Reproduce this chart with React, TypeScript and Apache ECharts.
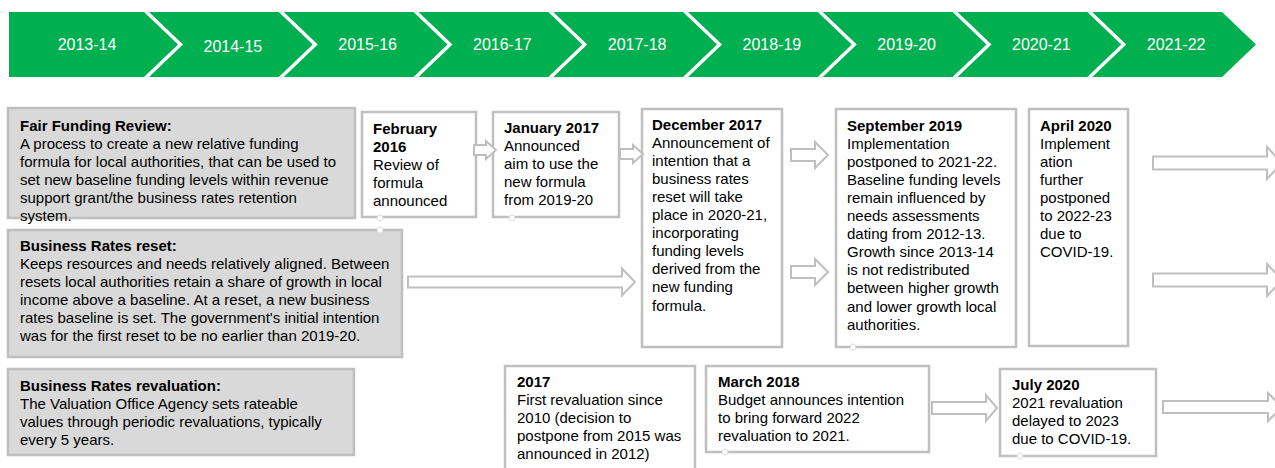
import React, { useEffect, useRef } from "react";
import * as echarts from "echarts";

// ---------- DATA ----------
const periods = ["2013-14", "2014-15", "2015-16", "2016-17", "2017-18", "2018-19", "2019-20", "2020-21", "2021-22"];

const fairFundingTitle = ["Fair Funding Review:"];
const fairFundingBody = [
  "A process to create a new relative funding",
  "formula for local authorities, that can be used to",
  "set new baseline funding levels within revenue",
  "support grant/the business rates retention",
  "system.",
];

const resetTitle = ["Business Rates reset:"];
const resetBody = [
  "Keeps resources and needs relatively aligned. Between",
  "resets local authorities retain a share of growth in local",
  "income above a baseline. At a reset, a new business",
  "rates baseline is set. The government's initial intention",
  "was for the first reset to be no earlier than 2019-20.",
];

const revalTitle = ["Business Rates revaluation:"];
const revalBody = [
  "The Valuation Office Agency sets rateable",
  "values through periodic revaluations, typically",
  "every 5 years.",
];

const feb2016Title = ["February", "2016"];
const feb2016Body = ["Review of", "formula", "announced"];

const jan2017Title = ["January 2017"];
const jan2017Body = ["Announced", "aim to use the", "new formula", "from 2019-20"];

const dec2017Title = ["December 2017"];
const dec2017Body = [
  "Announcement of",
  "intention that a",
  "business rates",
  "reset will take",
  "place in 2020-21,",
  "incorporating",
  "funding levels",
  "derived from the",
  "new funding",
  "formula.",
];

const sep2019Title = ["September 2019"];
const sep2019Body = [
  "Implementation",
  "postponed to 2021-22.",
  "Baseline funding levels",
  "remain influenced by",
  "needs assessments",
  "dating from 2012-13.",
  "Growth since 2013-14",
  "is not redistributed",
  "between higher growth",
  "and lower growth local",
  "authorities.",
];

const apr2020Title = ["April 2020"];
const apr2020Body = ["Implement", "ation", "further", "postponed", "to 2022-23", "due to", "COVID-19."];

const reval2017Title = ["2017"];
const reval2017Body = ["First revaluation since", "2010 (decision to", "postpone from 2015 was", "announced in 2012)"];

const mar2018Title = ["March 2018"];
const mar2018Body = ["Budget announces intention", "to bring forward 2022", "revaluation to 2021."];

const jul2020Title = ["July 2020"];
const jul2020Body = ["2021 revaluation", "delayed to 2023", "due to COVID-19."];

// ---------- STYLE / LAYOUT ----------
const FAMILY = '"Liberation Sans", Arial, Helvetica, sans-serif';
const GREEN = "#00B050";
const BORDER = "#BFBFBF";
const GREYFILL = "#D9D9D9";
const LH = 18.1;

function textBlock(x: number, top: number, title: string[], body: string[], size = 15) {
  const els: any[] = [];
  els.push({
    type: "text",
    z: 10,
    style: {
      x,
      y: top,
      text: title.join("\n"),
      fill: "#000",
      font: `bold ${size}px ${FAMILY}`,
      lineHeight: LH,
      align: "left",
      textAlign: "left",
      verticalAlign: "top",
      textVerticalAlign: "top",
    },
  });
  els.push({
    type: "text",
    z: 10,
    style: {
      x,
      y: top + LH * title.length,
      text: body.join("\n"),
      fill: "#000",
      font: `${size}px ${FAMILY}`,
      lineHeight: LH,
      align: "left",
      textAlign: "left",
      verticalAlign: "top",
      textVerticalAlign: "top",
    },
  });
  return els;
}

function box(x: number, y: number, w: number, h: number, grey: boolean) {
  return {
    type: "rect",
    z: 5,
    shape: { x, y, width: w, height: h },
    style: { fill: grey ? GREYFILL : "#fff", stroke: BORDER, lineWidth: 2.5 },
  };
}

function arrow(x0: number, x1: number, cy: number, s: number, h: number, hl: number) {
  const xh = x1 - hl;
  return {
    type: "polygon",
    z: 6,
    shape: {
      points: [
        [x0, cy - s],
        [xh, cy - s],
        [xh, cy - h],
        [x1, cy],
        [xh, cy + h],
        [xh, cy + s],
        [x0, cy + s],
      ],
    },
    style: { fill: "#fff", stroke: BORDER, lineWidth: 2 },
  };
}

function dot(x: number, y: number) {
  return {
    type: "circle",
    z: 8,
    shape: { cx: x, cy: y, r: 3 },
    style: { fill: "#fff", stroke: "#D8D8D8", lineWidth: 1 },
  };
}

function buildElements() {
  const els: any[] = [];
  // chevrons
  const top = 12;
  const bottom = 77;
  const mid = (top + bottom) / 2;
  const d = 34;
  const step = 134.75;
  periods.forEach((p, i) => {
    const x1 = 144 + step * i;
    const x0 = i === 0 ? 9 : 144 + step * (i - 1) + 5;
    const pts =
      i === 0
        ? [[x0, top], [x1, top], [x1 + d, mid], [x1, bottom], [x0, bottom]]
        : [[x0, top], [x1, top], [x1 + d, mid], [x1, bottom], [x0, bottom], [x0 + d, mid]];
    els.push({ type: "polygon", z: 2, shape: { points: pts }, style: { fill: GREEN, stroke: "none" } });
    const cx = i === 0 ? 87 : (x0 + x1 + d) / 2 + 2;
    els.push({
      type: "text",
      z: 3,
      style: {
        x: cx,
        y: mid + (i === 1 ? 1.5 : 0),
        text: p,
        fill: "#fff",
        font: `16px ${FAMILY}`,
        align: "center",
        textAlign: "center",
        verticalAlign: "middle",
        textVerticalAlign: "middle",
      },
    });
  });

  // grey description boxes
  els.push(box(8, 108, 347, 110, true));
  els.push(...textBlock(20, 116, fairFundingTitle, fairFundingBody));
  els.push(box(8, 230, 394, 127, true));
  els.push(...textBlock(20, 236, resetTitle, resetBody));
  els.push(box(8, 369, 346, 86, true));
  els.push(...textBlock(20, 376, revalTitle, revalBody));

  // white event boxes
  els.push(box(362, 112, 114, 105, false));
  els.push(...textBlock(373, 119, feb2016Title, feb2016Body));
  els.push(box(493, 112, 126, 105, false));
  els.push(...textBlock(504, 118, jan2017Title, jan2017Body));
  els.push(box(642, 109, 140, 238, false));
  els.push(...textBlock(652, 115, dec2017Title, dec2017Body));
  els.push(box(836, 109, 180, 238, false));
  els.push(...textBlock(847, 116, sep2019Title, sep2019Body));
  els.push(box(1029, 109, 99, 237, false));
  els.push(...textBlock(1040, 116, apr2020Title, apr2020Body));
  els.push(box(505, 366, 190, 120, false));
  els.push(...textBlock(517, 372, reval2017Title, reval2017Body));
  els.push(box(706, 366, 223, 86, false));
  els.push(...textBlock(718, 372, mar2018Title, mar2018Body));
  els.push(box(1000, 369, 156, 87, false));
  els.push(...textBlock(1012, 375, jul2020Title, jul2020Body));

  // arrows
  els.push(arrow(474, 496, 150, 5, 9, 10));
  els.push(arrow(620, 643, 154, 5, 9, 10));
  els.push(arrow(408, 635, 282, 5.5, 13.5, 13));
  els.push(arrow(791, 828, 155, 6, 13, 13));
  els.push(arrow(791, 828, 272, 6, 13, 13));
  els.push(arrow(1153, 1282, 163, 6.5, 16, 15));
  els.push(arrow(1153, 1282, 280, 6.5, 16, 15));
  els.push(arrow(932, 997, 408, 6, 13, 11));
  els.push(arrow(1163, 1282, 407, 6, 14, 14));

  // small connector dots
  els.push(dot(380, 218));
  els.push(dot(380, 230));
  els.push(dot(512, 218));
  els.push(dot(853, 347));
  els.push(dot(725, 452));
  els.push(dot(1020, 456));
  return els;
}

export default function App() {
  const ref = useRef<HTMLDivElement>(null);
  useEffect(() => {
    if (!ref.current) return;
    const chart = echarts.init(ref.current, null, { renderer: "svg" });
    chart.setOption({
      animation: false,
      backgroundColor: "#fff",
      graphic: { elements: buildElements() },
    });
    return () => chart.dispose();
  }, []);
  return (
    <div
      ref={ref}
      style={{ position: "absolute", left: 0, top: 0, width: 1275, height: 468, background: "#fff" }}
    />
  );
}
